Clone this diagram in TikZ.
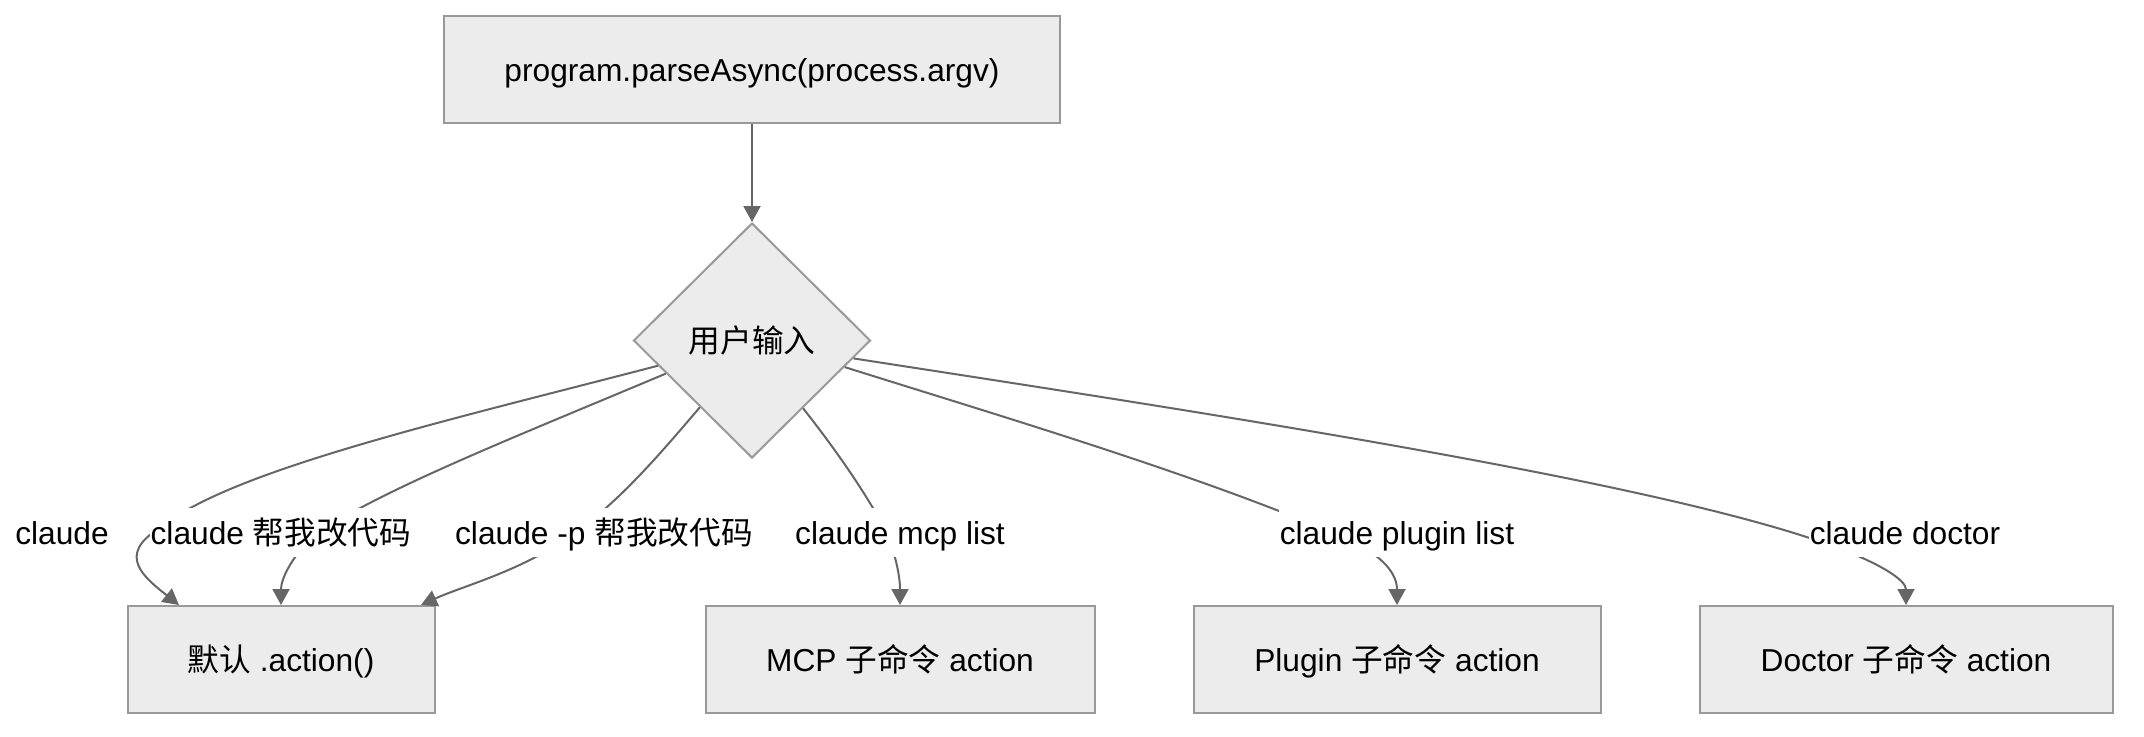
\documentclass[tikz,border=0pt]{standalone}
\usepackage{fontspec}
\setmainfont{Liberation Sans}
\newfontfamily\cjk{Noto Sans CJK SC}
\usetikzlibrary{shapes.geometric,arrows.meta,calc}
\definecolor{edgec}{HTML}{666666}
\definecolor{boxfill}{HTML}{ECECEC}
\definecolor{boxline}{HTML}{999999}
\begin{document}
\begin{tikzpicture}[x=0.5pt,y=-0.5pt,
  every node/.style={font=\fontsize{15.85pt}{19pt}\selectfont,text height=13.9pt,text depth=1.7pt},
  box/.style={draw=boxline,fill=boxfill,line width=1pt,rectangle,inner sep=0pt,minimum height=53.5pt},
  decision/.style={draw=boxline,fill=boxfill,line width=1pt,diamond,inner sep=0pt,minimum width=118.5pt,minimum height=117.5pt},
  elabel/.style={fill=white,inner xsep=0.5pt,inner ysep=0pt,minimum height=24.5pt},
  conn/.style={draw=edgec,line width=1pt,-{Triangle[width=8.5pt,length=8pt]}}
]
\path[use as bounding box,fill=white] (0,0) rectangle (2144,736);

\node[box,minimum width=308pt] (top) at (752,69.5) {program.parseAsync(process.argv)};
\node[decision] (d) at (752,340.5) {\cjk 用户输入};
\node[box,minimum width=153.5pt] (b1) at (281,659.5) {{\cjk 默认} .action()};
\node[box,minimum width=194.5pt] (b2) at (900,659.5) {MCP {\cjk 子命令} action};
\node[box,minimum width=203.5pt] (b3) at (1397,659.5) {Plugin {\cjk 子命令} action};
\node[box,minimum width=206.5pt] (b4) at (1906,659.5) {Doctor {\cjk 子命令} action};

\draw[conn] (top.south) -- (d.north);

\draw[conn] (d.195.8) .. controls (450,420) and (230,470) .. (160,528)
  .. controls (115,555) and (145,578) .. ($(b1.north)+(-102,0)$);
\draw[conn] (d.201.9) .. controls (520,435) and (380,490) .. (315,535)
  .. controls (290,558) and (281,580) .. (b1.north);
\draw[conn] (d.232.2) .. controls (655,460) and (620,500) .. (575,533)
  .. controls (520,572) and (465,585) .. ($(b1.north)+(140,0)$);
\draw[conn] (d.307.8) .. controls (840,455) and (870,500) .. (885,530)
  .. controls (895,552) and (900,575) .. (b2.north);
\draw[conn] (d.344) .. controls (1000,416) and (1200,475) .. (1345,538)
  .. controls (1385,556) and (1397,575) .. (b3.north);
\draw[conn] (d.350.3) .. controls (1200,412) and (1650,480) .. (1830,545)
  .. controls (1880,563) and (1906,580) .. (b4.north);

\node[elabel] (l0) at (62,532) {claude};
\node[elabel] (l1) at (281,532) {claude {\cjk 帮我改代码}};
\node[elabel] (l2) at (604,532) {claude -p {\cjk 帮我改代码}};
\node[elabel] (l3) at (900,532) {claude mcp list};
\node[elabel] (l4) at (1397,532) {claude plugin list};
\node[elabel] (l5) at (1905,532) {claude doctor};
\end{tikzpicture}
\end{document}
